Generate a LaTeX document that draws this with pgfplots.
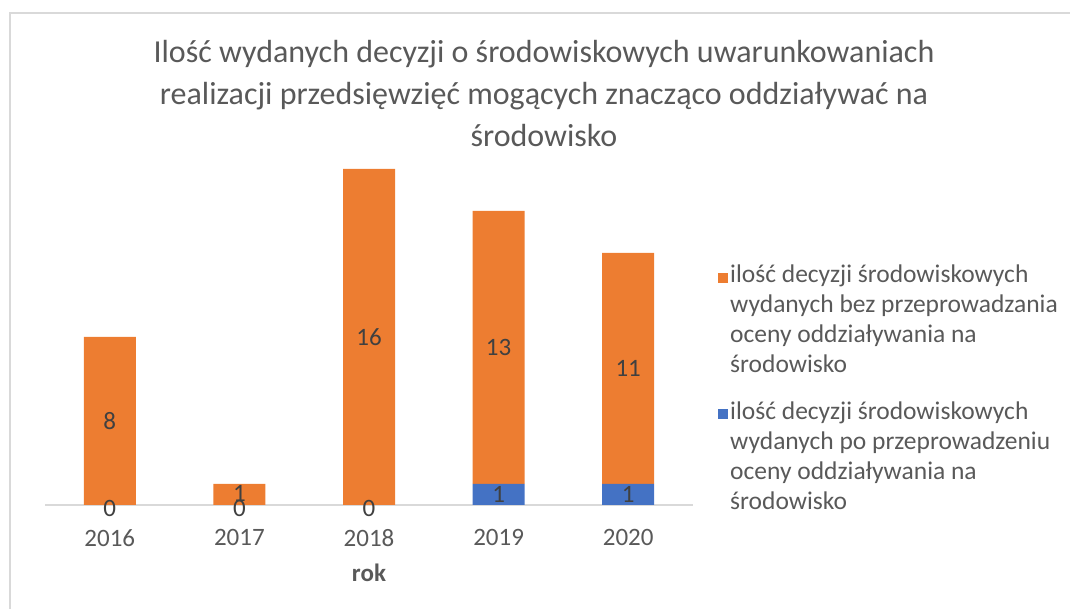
\documentclass[border=0pt]{standalone}
\usepackage{pgfplots}
\pgfplotsset{compat=1.18}
\usepackage{pgfplotstable}
\usepackage{fontspec}
\setmainfont{Carlito}
\definecolor{orng}{HTML}{ED7D31}
\definecolor{blu}{HTML}{4472C4}
\definecolor{txt}{HTML}{595959}
\definecolor{lbl}{HTML}{404040}
\definecolor{gridc}{HTML}{D9D9D9}

\pgfplotstableread{
x blue orange
0 0 8
1 0 1
2 0 16
3 1 13
4 1 11
}\data

\pgfplotstableread{
x y lab
0 4 8
1 0.55 1
2 8 16
3 7.5 13
4 6.5 11
0 -0.15 0
1 -0.15 0
2 -0.15 0
3 0.5 1
4 0.5 1
}\labels

\begin{document}
\begin{tikzpicture}[x=1pt,y=1pt]
\useasboundingbox (0,0) rectangle (1070,609);
\draw[gridc, line width=1.2pt] (10,0) -- (10,596) -- (1070,596);
\node[align=center, text=txt, font=\fontsize{32}{42}\selectfont] at (544,515)
 {Ilość wydanych decyzji o środowiskowych uwarunkowaniach\\realizacji przedsięwzięć mogących znacząco oddziaływać na\\środowisko};
\begin{axis}[
 at={(45pt,104pt)}, anchor=south west, scale only axis,
 width=648pt, height=336pt,
 xmin=-0.5, xmax=4.5, ymin=0, ymax=16, clip=false,
 ybar stacked, bar width=52pt,
 axis x line=bottom, axis y line=none,
 x axis line style={-, draw=gridc, line width=1.2pt},
 xtick={0,1,2,3,4},
 xticklabels={2016,2017,2018,2019,2020},
 major tick length=0pt,
 xticklabel style={text=txt, font=\fontsize{25}{30}\selectfont, yshift=-21pt},
 xlabel={rok},
 xlabel style={font=\bfseries\fontsize{25}{30}\selectfont, text=txt, yshift=-10pt},
 legend style={at={(1.034,0.726)}, anchor=north west, draw=none, fill=none,
   font=\fontsize{25.5}{30}\selectfont, text=txt, row sep=23pt, cells={align=left}},
 legend cell align=left,
 reverse legend,
 legend image code/.code={\fill[#1] (0pt,37pt) rectangle (10pt,47pt);},
]
\addplot[fill=blu, draw=none] table[x=x,y=blue]{\data};
\addlegendentry{ilość decyzji środowiskowych\\wydanych po przeprowadzeniu\\oceny oddziaływania na\\środowisko}
\addplot[fill=orng, draw=none] table[x=x,y=orange]{\data};
\addlegendentry{ilość decyzji środowiskowych\\wydanych bez przeprowadzania\\oceny oddziaływania na\\środowisko}
\end{axis}
\begin{axis}[
 at={(45pt,104pt)}, anchor=south west, scale only axis,
 width=648pt, height=336pt,
 xmin=-0.5, xmax=4.5, ymin=0, ymax=16, clip=false, hide axis,
]
\addplot[draw=none, mark=none, nodes near coords={\pgfplotspointmeta},
  point meta=explicit symbolic, nodes near coords align=center,
  every node near coord/.append style={text=lbl, font=\fontsize{25}{30}\selectfont, anchor=center}]
  table[x=x, y=y, meta=lab]{\labels};
\end{axis}
\end{tikzpicture}
\end{document}
